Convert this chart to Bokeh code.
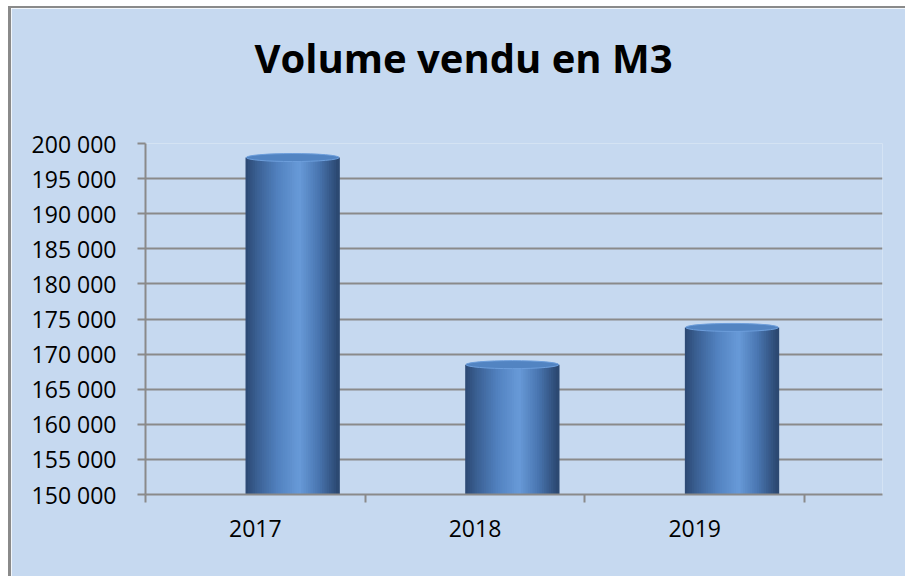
import numpy as np
from bokeh.plotting import figure
from bokeh.models import FixedTicker, ColumnDataSource, Range1d, Title
from bokeh.embed import file_html
from bokeh.resources import INLINE

# ---- data ----
years = ["2017", "2018", "2019"]
volumes = [198000, 168500, 173800]
y_ticks = [150000, 155000, 160000, 165000, 170000, 175000, 180000, 185000, 190000, 195000, 200000]
y_tick_labels = ["150 000", "155 000", "160 000", "165 000", "170 000", "175 000",
                 "180 000", "185 000", "190 000", "195 000", "200 000"]
title_text = "Volume vendu en M3"

# ---- style ----
BG = "#c6d9f0"
GRID = "#8a8a8a"
FONT = "Open Sans"
y_min, y_max = 150000, 200000
bar_offset = 0.17
bar_w = 0.423
n_strips = 40

p = figure(width=897, height=570, output_backend="svg", toolbar_location=None,
           x_range=Range1d(0.5, 3.855), y_range=Range1d(y_min, y_max),
           background_fill_color=BG, border_fill_color=BG,
           min_border_left=134, min_border_right=26, min_border_top=135, min_border_bottom=84)
p.styles = {"border-left": "3px solid #8a8a8a", "border-top": "2px solid #8a8a8a",
            "margin-left": "8px", "margin-top": "6px"}
p.outline_line_color = None

# spacer between frame and title (nearest the frame), then the title
spacer = Title(text=" ", text_font_size="1px", standoff=56, text_color=BG)
p.add_layout(spacer, "above")
t = Title(text=title_text, text_font=FONT, text_font_size="40px", text_font_style="bold",
          text_color="black", align="left", offset=109, standoff=0)
p.add_layout(t, "above")

# gradient profile across the cylinder
stops = np.array([0.0, 0.12, 0.35, 0.58, 0.78, 1.0])
cols = np.array([
    [0x2b, 0x48, 0x72],
    [0x3a, 0x5f, 0x92],
    [0x52, 0x82, 0xc0],
    [0x68, 0x9a, 0xd8],
    [0x4a, 0x77, 0xb2],
    [0x2a, 0x46, 0x6e],
])

def col_at(f):
    c = [np.interp(f, stops, cols[:, i]) for i in range(3)]
    return "#%02x%02x%02x" % tuple(int(round(v)) for v in c)

xs, tops, colors = [], [], []
sw = bar_w / n_strips
for i, v in enumerate(volumes):
    xc = i + 1 + bar_offset
    for k in range(n_strips):
        f = (k + 0.5) / n_strips
        xs.append(xc - bar_w / 2 + (k + 0.5) * sw)
        tops.append(v)
        colors.append(col_at(f))
src = ColumnDataSource(dict(x=xs, top=tops, color=colors))
p.vbar(x="x", top="top", bottom=y_min, width=sw * 1.6, fill_color="color", line_color=None, source=src)

cap_src = ColumnDataSource(dict(x=[i + 1 + bar_offset for i in range(len(volumes))], y=volumes))
p.ellipse(x="x", y="y", width=bar_w, height=8, height_units="screen",
          fill_color="#5284c2", line_color="#6d9edb", line_width=1, source=cap_src)

# y axis
p.yaxis.ticker = FixedTicker(ticks=y_ticks)
p.yaxis.major_label_overrides = {t_: l for t_, l in zip(y_ticks, y_tick_labels)}
p.yaxis.major_label_text_font = FONT
p.yaxis.major_label_text_font_size = "23px"
p.yaxis.major_label_text_color = "black"
p.yaxis.axis_line_color = GRID
p.yaxis.axis_line_width = 2
p.yaxis.major_tick_line_color = GRID
p.yaxis.major_tick_line_width = 2
p.yaxis.major_tick_out = 8
p.yaxis.major_tick_in = 0
p.yaxis.minor_tick_line_color = None
p.yaxis.major_label_standoff = 21

# x axis
p.xaxis.ticker = FixedTicker(ticks=[1, 2, 3], minor_ticks=[0.5, 1.5, 2.5, 3.5])
p.xaxis.major_label_overrides = {i + 1: y for i, y in enumerate(years)}
p.xaxis.major_label_text_font = FONT
p.xaxis.major_label_text_font_size = "23px"
p.xaxis.major_label_text_color = "black"
p.xaxis.axis_line_color = GRID
p.xaxis.axis_line_width = 2
p.xaxis.major_tick_line_color = None
p.xaxis.major_tick_out = 0
p.xaxis.major_tick_in = 0
p.xaxis.minor_tick_line_color = GRID
p.xaxis.minor_tick_line_width = 2
p.xaxis.minor_tick_out = 8
p.xaxis.minor_tick_in = 0
p.xaxis.major_label_standoff = 17

p.xgrid.grid_line_color = None
p.ygrid.ticker = FixedTicker(ticks=y_ticks)
p.ygrid.grid_line_color = GRID
p.ygrid.grid_line_width = 2
p.ygrid.level = "underlay"

open("out.html", "w").write(file_html(p, INLINE))
